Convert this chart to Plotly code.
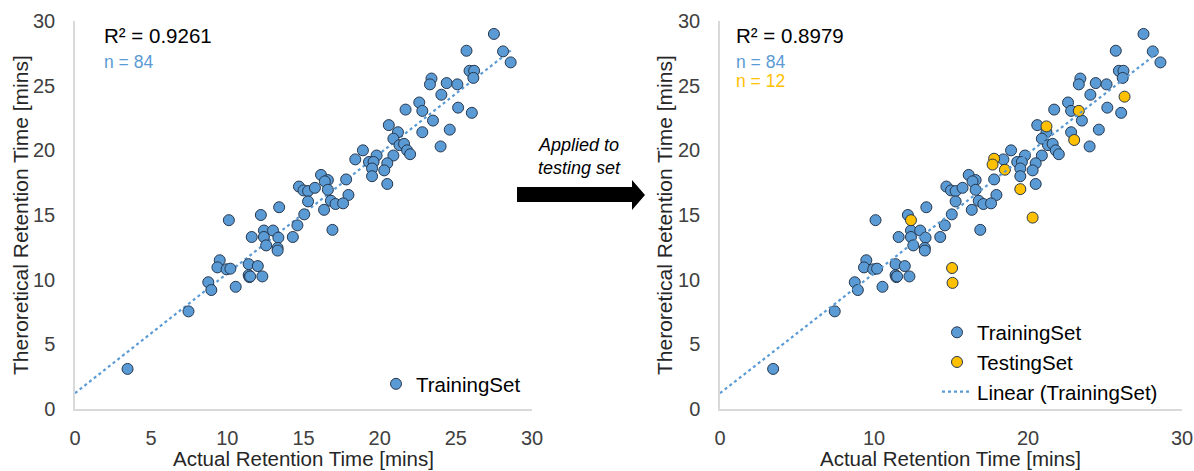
import numpy as np
import plotly.graph_objects as go

# ---------------- data ----------------
train_x = [27.5, 25.7, 28.1, 28.6, 25.9, 26.2, 26.15, 23.4, 23.3, 24.4, 25.1, 24.05,
           22.6, 21.7, 22.8, 25.15, 26.05, 23.5, 20.6, 21.2, 22.8, 24.6, 20.9, 21.3,
           21.6, 21.8, 22.0, 24.0, 20.9, 18.9, 18.4, 19.8, 19.3, 19.6, 20.5, 19.5,
           20.3, 19.5, 20.5, 16.15, 16.6, 16.4, 17.8, 14.7, 15.0, 15.3, 15.75, 16.6,
           17.95, 15.3, 16.8, 17.1, 17.6, 13.4, 16.35, 15.05, 12.2, 10.1, 14.6, 16.9,
           12.4, 13.0, 11.6, 12.4, 13.35, 14.3, 12.55, 13.3, 13.3, 9.5, 9.35, 9.95,
           10.2, 11.4, 12.0, 11.4, 11.45, 12.3, 8.75, 8.95, 10.55, 7.45, 3.45, 11.5]
train_y = [29.0, 27.7, 27.65, 26.8, 26.15, 26.15, 25.6, 25.55, 25.1, 25.2, 25.1, 24.3,
           23.7, 23.15, 23.05, 23.3, 22.9, 22.3, 21.95, 21.4, 21.4, 21.6, 20.9, 20.4,
           20.5, 20.0, 19.7, 20.3, 19.6, 20.0, 19.3, 19.6, 19.1, 19.1, 19.0, 18.6,
           18.45, 18.0, 17.4, 18.1, 17.7, 17.6, 17.75, 17.2, 16.9, 16.85, 17.1, 16.95,
           16.55, 16.05, 16.1, 15.85, 15.9, 15.6, 15.4, 15.05, 15.0, 14.6, 14.2, 13.85,
           13.8, 13.8, 13.3, 13.3, 13.25, 13.3, 12.65, 12.45, 12.25, 11.5, 10.95, 10.8,
           10.85, 11.2, 11.05, 10.35, 10.2, 10.25, 9.8, 9.2, 9.45, 7.55, 3.1, 10.25]
test_x = [26.27, 23.3, 21.2, 23.0, 17.8, 17.7, 18.5, 19.5, 12.4, 20.3, 15.07, 15.1]
test_y = [24.15, 23.05, 21.85, 20.8, 19.35, 18.9, 18.5, 17.0, 14.6, 14.8, 10.9, 9.75]

r2_left = "R² = 0.9261"
r2_right = "R² = 0.8979"
n_train = "n = 84"
n_test = "n = 12"
x_ticks = [0, 5, 10, 15, 20, 25, 30]
x_ticks_right = [0, 10, 20, 30]
y_ticks = [0, 5, 10, 15, 20, 25, 30]

# linear trend of the training set
slope, intercept = np.polyfit(train_x, train_y, 1)
fit_x = [0, max(train_x)]
fit_y = [intercept + slope * v for v in fit_x]

BLUE = "#5b9bd5"
GOLD = "#ffc000"
EDGE = "#26374d"
FONT = "Liberation Sans, Arial, sans-serif"
W, H = 1194, 471

def px(xp):
    return xp / W

def py(yp):
    return 1 - yp / H

fig = go.Figure()

# left panel
fig.add_trace(go.Scatter(x=fit_x, y=fit_y, mode="lines", xaxis="x", yaxis="y",
                         line=dict(color=BLUE, width=2.2, dash="dot"),
                         showlegend=False, hoverinfo="skip"))
fig.add_trace(go.Scatter(x=train_x, y=train_y, mode="markers", name="TrainingSet",
                         xaxis="x", yaxis="y", legend="legend",
                         marker=dict(size=11, color=BLUE, line=dict(color=EDGE, width=1))))

# right panel
fig.add_trace(go.Scatter(x=train_x, y=train_y, mode="markers", name="TrainingSet",
                         xaxis="x2", yaxis="y2", legend="legend2",
                         marker=dict(size=11, color=BLUE, line=dict(color=EDGE, width=1))))
fig.add_trace(go.Scatter(x=test_x, y=test_y, mode="markers", name="TestingSet",
                         xaxis="x2", yaxis="y2", legend="legend2",
                         marker=dict(size=11, color=GOLD, line=dict(color=EDGE, width=1))))
fig.add_trace(go.Scatter(x=fit_x, y=fit_y, mode="lines", name="Linear (TrainingSet)",
                         xaxis="x2", yaxis="y2", legend="legend2",
                         line=dict(color=BLUE, width=2.2, dash="dot"), hoverinfo="skip"))

axis_common = dict(showgrid=False, zeroline=False, showline=True, linecolor="#d9d9d9",
                   linewidth=1.5, ticks="", tickfont=dict(family=FONT, size=20, color="#404040"),
                   range=[0, 30], automargin=False, fixedrange=True)

ydom = [py(409), py(21)]
fig.update_layout(
    width=W, height=H,
    margin=dict(l=0, r=0, t=0, b=0),
    paper_bgcolor="white", plot_bgcolor="white",
    font=dict(family=FONT, color="#000000"),
    xaxis=dict(domain=[px(75), px(532)], anchor="y", tickvals=x_ticks,
               ticklabelstandoff=10, **axis_common),
    yaxis=dict(domain=ydom, anchor="x", tickvals=y_ticks, ticklabelstandoff=14, **axis_common),
    xaxis2=dict(domain=[px(720), px(1182)], anchor="y2", tickvals=x_ticks_right,
                ticklabelstandoff=10, **axis_common),
    yaxis2=dict(domain=ydom, anchor="x2", tickvals=y_ticks, ticklabelstandoff=14, **axis_common),
    legend=dict(x=px(376), y=py(364), xanchor="left", yanchor="top",
                bgcolor="rgba(0,0,0,0)", font=dict(family=FONT, size=20.5, color="#000000"),
                tracegroupgap=0, itemsizing="trace"),
    legend2=dict(x=px(937), y=py(312.5), xanchor="left", yanchor="top",
                 bgcolor="rgba(0,0,0,0)", font=dict(family=FONT, size=20.5, color="#000000"),
                 tracegroupgap=0, itemsizing="trace"),
    shapes=[dict(type="path", xref="paper", yref="paper",
                 path=(f"M {px(517)},{py(187)} L {px(632)},{py(187)} L {px(632)},{py(180)} "
                       f"L {px(645)},{py(195)} L {px(632)},{py(210)} L {px(632)},{py(202)} "
                       f"L {px(517)},{py(202)} Z"),
                 fillcolor="black", line=dict(width=0))],
)

ann = [
    dict(text=r2_left, x=px(102), y=py(36), xanchor="left", yanchor="middle",
         font=dict(size=20.5, color="black")),
    dict(text=n_train, x=px(102), y=py(62), xanchor="left", yanchor="middle",
         font=dict(size=17.5, color=BLUE)),
    dict(text=r2_right, x=px(734), y=py(36), xanchor="left", yanchor="middle",
         font=dict(size=20.5, color="black")),
    dict(text=n_train, x=px(734), y=py(62), xanchor="left", yanchor="middle",
         font=dict(size=17.5, color=BLUE)),
    dict(text=n_test, x=px(734), y=py(81), xanchor="left", yanchor="middle",
         font=dict(size=17.5, color=GOLD)),
    dict(text="<i>Applied to<br>testing set</i>", x=px(579), y=py(157), xanchor="center",
         yanchor="middle", font=dict(size=18, color="black")),
    dict(text="Actual Retention Time [mins]", x=px(303), y=py(458), xanchor="center",
         yanchor="middle", font=dict(size=20.5, color="#262626")),
    dict(text="Actual Retention Time [mins]", x=px(951), y=py(458), xanchor="center",
         yanchor="middle", font=dict(size=20.5, color="#262626")),
    dict(text="Theroretical Retention Time [mins]", x=px(20), y=py(215), textangle=-90,
         xanchor="center", yanchor="middle", font=dict(size=21, color="#262626")),
    dict(text="Theroretical Retention Time [mins]", x=px(664), y=py(215), textangle=-90,
         xanchor="center", yanchor="middle", font=dict(size=21, color="#262626")),
]
for a in ann:
    a.update(xref="paper", yref="paper", showarrow=False)
    a["font"]["family"] = FONT
fig.update_layout(annotations=ann)

fig.write_html("out.html")
